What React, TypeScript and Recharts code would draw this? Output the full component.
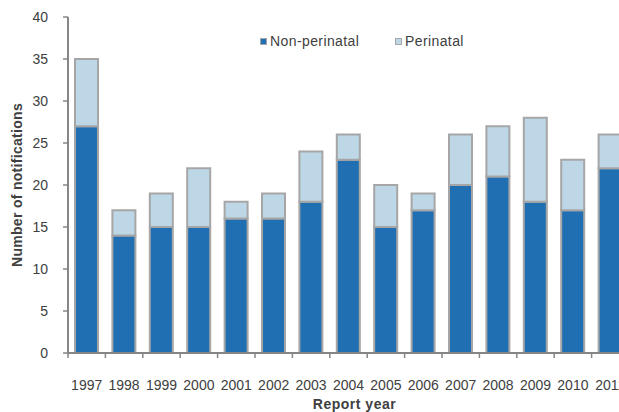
import { BarChart, Bar, XAxis, YAxis } from "recharts";

const years = ["1997", "1998", "1999", "2000", "2001", "2002", "2003", "2004", "2005", "2006", "2007", "2008", "2009", "2010", "2011"];
const nonPerinatal = [27, 14, 15, 15, 16, 16, 18, 23, 15, 17, 20, 21, 18, 17, 22];
const perinatal = [8, 3, 4, 7, 2, 3, 6, 3, 5, 2, 6, 6, 10, 6, 4];
const yTicks = [0, 5, 10, 15, 20, 25, 30, 35, 40];

const data = years.map((year, i) => ({
  year,
  nonPerinatal: nonPerinatal[i],
  perinatal: perinatal[i],
}));

const DARK = "#1f6fb2";
const LIGHT = "#bdd7e7";
const EDGE = "#a6a6a6";
const AXIS = "#868686";
const TEXT = "#404040";
const FONT = "Liberation Sans, Arial, sans-serif";
const TICK_MARGIN = 22;

const XTick = (props: any) => {
  const { x, y, payload } = props;
  const half = payload.offset ?? 18.7;
  const axisY = y - TICK_MARGIN - 5;
  return (
    <g>
      <line x1={x - half} x2={x - half} y1={axisY} y2={axisY + 5} stroke={AXIS} strokeWidth={1.5} />
      <text x={x} y={y} dy="0.71em" textAnchor="middle" fill={TEXT} fontSize={14} fontFamily={FONT}>
        {payload.value}
      </text>
    </g>
  );
};

const LegendItem = ({ color, label, left }: { color: string; label: string; left: number }) => (
  <div style={{ position: "absolute", left, top: 33, display: "flex", alignItems: "center" }}>
    <span style={{ width: 5, height: 5, background: color, border: `1.5px solid ${EDGE}`, marginRight: 3 }} />
    <span style={{ fontSize: 14, color: TEXT, fontFamily: FONT, letterSpacing: 0.4 }}>{label}</span>
  </div>
);

export default function App() {
  return (
    <div style={{ position: "fixed", left: 0, top: 0, width: 619, height: 412, overflow: "hidden", background: "#fff" }}>
      <BarChart width={629} height={412} data={data} margin={{ top: 17, right: 0, bottom: 0, left: 0 }}>
        <XAxis
          dataKey="year"
          height={59}
          tickSize={5}
          tickMargin={TICK_MARGIN}
          tickLine={false}
          axisLine={{ stroke: AXIS, strokeWidth: 2 }}
          tick={<XTick />}
          interval={0}
          label={(p: any) => (
            <text
              x={p.viewBox.x + p.viewBox.width / 2 + 6}
              y={409}
              textAnchor="middle"
              fill={TEXT}
              fontSize={14}
              fontWeight="bold"
              fontFamily={FONT}
              letterSpacing={0.5}
            >
              Report year
            </text>
          )}
        />
        <YAxis
          width={68}
          domain={[0, 40]}
          ticks={yTicks}
          interval={0}
          tickSize={5}
          tickMargin={15}
          tickLine={{ stroke: AXIS, strokeWidth: 1.5 }}
          axisLine={{ stroke: AXIS, strokeWidth: 2 }}
          tick={{ fill: TEXT, fontSize: 14, fontFamily: FONT }}
          label={(p: any) => (
            <text
              x={0}
              y={0}
              transform={`translate(22, ${p.viewBox.y + p.viewBox.height / 2}) rotate(-90)`}
              textAnchor="middle"
              fill={TEXT}
              fontSize={14}
              fontWeight="bold"
              fontFamily={FONT}
              letterSpacing={0.3}
            >
              Number of notifications
            </text>
          )}
        />
        <Bar dataKey="nonPerinatal" stackId="a" fill={DARK} stroke={EDGE} strokeWidth={2} barSize={23} isAnimationActive={false} />
        <Bar dataKey="perinatal" stackId="a" fill={LIGHT} stroke={EDGE} strokeWidth={2} barSize={23} isAnimationActive={false} />
      </BarChart>
      <LegendItem color={DARK} label="Non-perinatal" left={260} />
      <LegendItem color={LIGHT} label="Perinatal" left={395} />
    </div>
  );
}
